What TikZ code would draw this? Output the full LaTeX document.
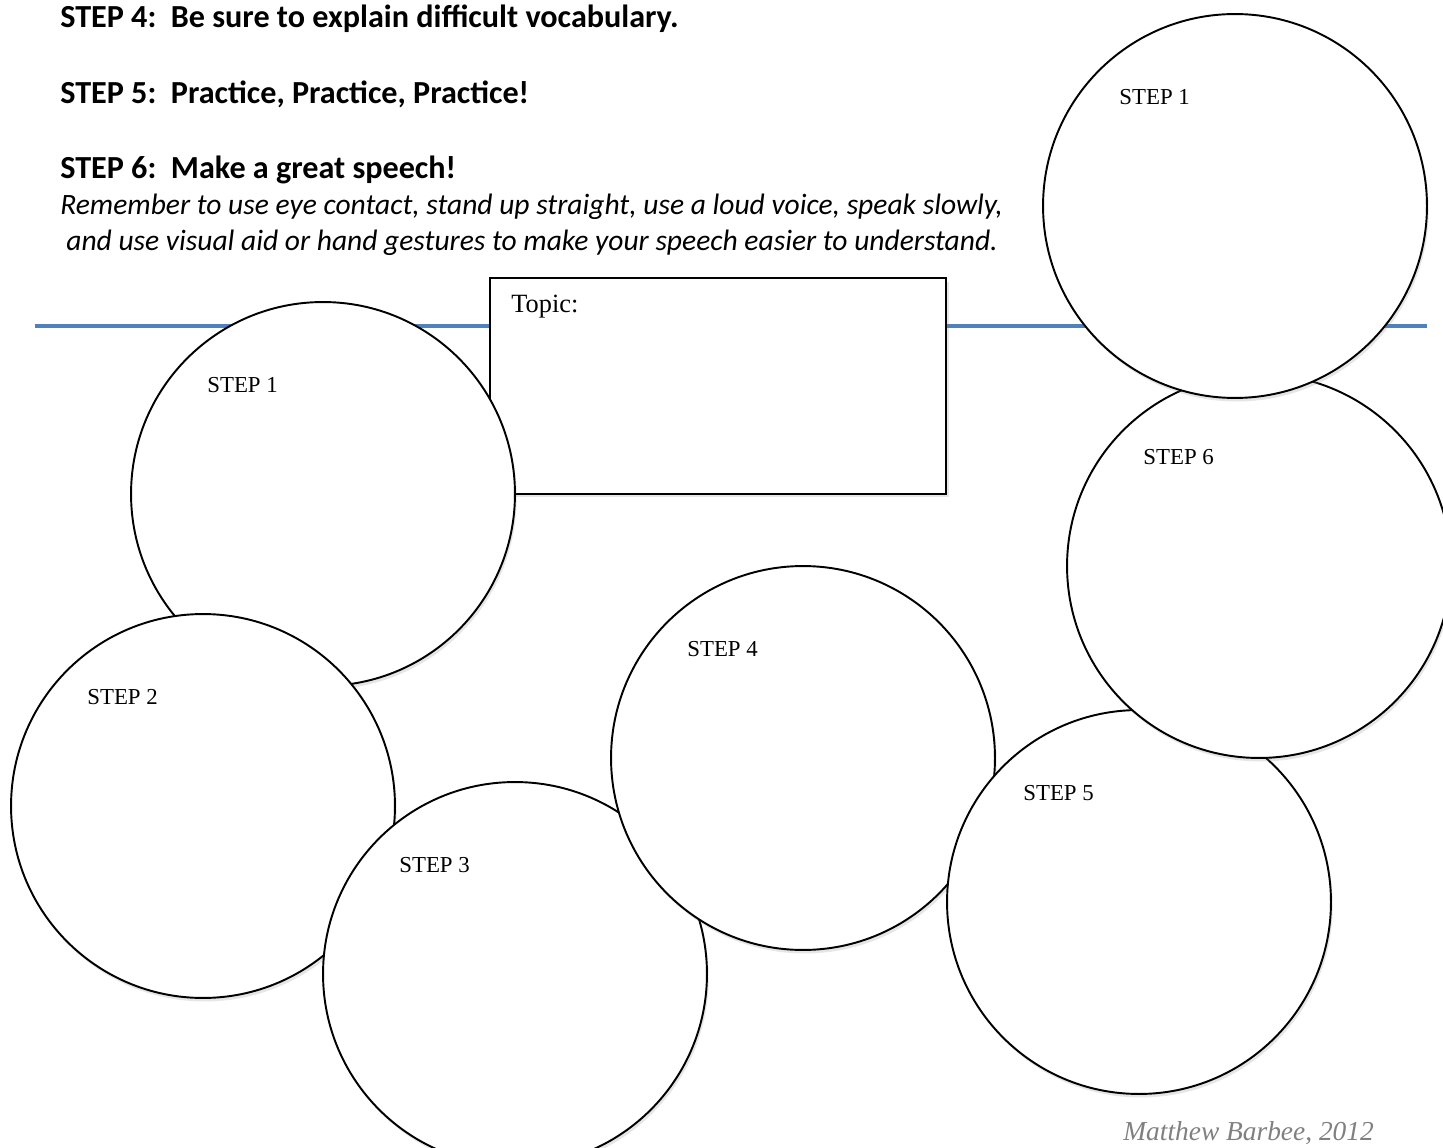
\documentclass[tikz,border=0pt]{standalone}
\usepackage{fontspec}
\setmainfont{Carlito}
\newfontfamily\stepfont{Liberation Serif}
\usepackage{xcolor}
\usetikzlibrary{shapes.geometric, arrows}
\usetikzlibrary{shadows}
\usetikzlibrary{positioning}
\definecolor{ruleBlue}{RGB}{79,129,189}
\definecolor{authorGray}{RGB}{128,128,128}
\tikzstyle{stepCircle} = [
        circle,
        minimum size = 7.68cm,
        draw=black,
        fill=white,
        line width=1.1pt,
        drop shadow={shadow xshift=1pt, shadow yshift=-2pt, opacity=0.2}
    ]
\tikzstyle{topicBox} = [
        rectangle,
        minimum width = 9.12cm,
        minimum height = 4.32cm,
        draw=black,
        fill=white,
        line width=1.1pt,
        drop shadow={shadow xshift=2pt, shadow yshift=-2pt, opacity=0.2}
    ]
\tikzstyle{stepLabel} = [anchor=base west, inner sep=0pt, font=\stepfont\fontsize{13}{15}\selectfont]
\tikzstyle{heading} = [anchor=base west, inner sep=0pt, font=\bfseries\fontsize{18.3}{21}\selectfont]
\tikzstyle{remark} = [anchor=base west, inner sep=0pt, font=\itshape\fontsize{16.8}{19}\selectfont]
\tikzstyle{rule} = [line width=2.8pt, ruleBlue]

\begin{document}
\begin{tikzpicture}[x=0.02cm, y=-0.02cm]
    \useasboundingbox (0,0) rectangle (1443,1148);
    % instructions at the top
    \node (tip4) [heading] at (60,28) {STEP 4:\ \ Be sure to explain difficult vocabulary.};
    \node (tip5) [heading] at (60,104) {STEP 5:\ \ Practice, Practice, Practice!};
    \node (tip6) [heading] at (60,179) {STEP 6:\ \ Make a great speech!};
    \node (remind1) [remark] at (60,215) {Remember to use eye contact, stand up straight, use a loud voice, speak slowly,};
    \node (remind2) [remark] at (66,251) {and use visual aid or hand gestures to make your speech easier to understand.};
    % blue rule
    \coordinate (ruleL) at (35,326);
    \coordinate (ruleR) at (1427,326);
    \draw [rule] (ruleL) -- (ruleR);
    % topic box
    \node (topic) [topicBox] at (718,386) {};
    \node (topicLbl) [stepLabel, font=\stepfont\fontsize{15}{17}\selectfont] at ([xshift=0.44cm, yshift=-0.7cm]topic.north west) {Topic:};
    % step circles
    \node (s1) [stepCircle] at (323,494) {};
    \node (s1Lbl) [stepLabel] at ([xshift=-2.32cm, yshift=2.04cm]s1.center) {STEP 1};
    \node (s2) [stepCircle] at (203,806) {};
    \node (s2Lbl) [stepLabel] at ([xshift=-2.32cm, yshift=2.04cm]s2.center) {STEP 2};
    \node (s3) [stepCircle] at (515,974) {};
    \node (s3Lbl) [stepLabel] at ([xshift=-2.32cm, yshift=2.04cm]s3.center) {STEP 3};
    \node (s4) [stepCircle] at (803,758) {};
    \node (s4Lbl) [stepLabel] at ([xshift=-2.32cm, yshift=2.04cm]s4.center) {STEP 4};
    \node (s5) [stepCircle] at (1139,902) {};
    \node (s5Lbl) [stepLabel] at ([xshift=-2.32cm, yshift=2.04cm]s5.center) {STEP 5};
    \node (s6) [stepCircle] at (1259,566) {};
    \node (s6Lbl) [stepLabel] at ([xshift=-2.32cm, yshift=2.04cm]s6.center) {STEP 6};
    \node (s1top) [stepCircle] at (1235,206) {};
    \node (s1topLbl) [stepLabel] at ([xshift=-2.32cm, yshift=2.04cm]s1top.center) {STEP 1};
    % author
    \node (author) [anchor=base west, inner sep=0pt, text=authorGray, font=\stepfont\itshape\fontsize{15.6}{18}\selectfont] at (1123,1140) {Matthew Barbee, 2012};
\end{tikzpicture}
\end{document}
